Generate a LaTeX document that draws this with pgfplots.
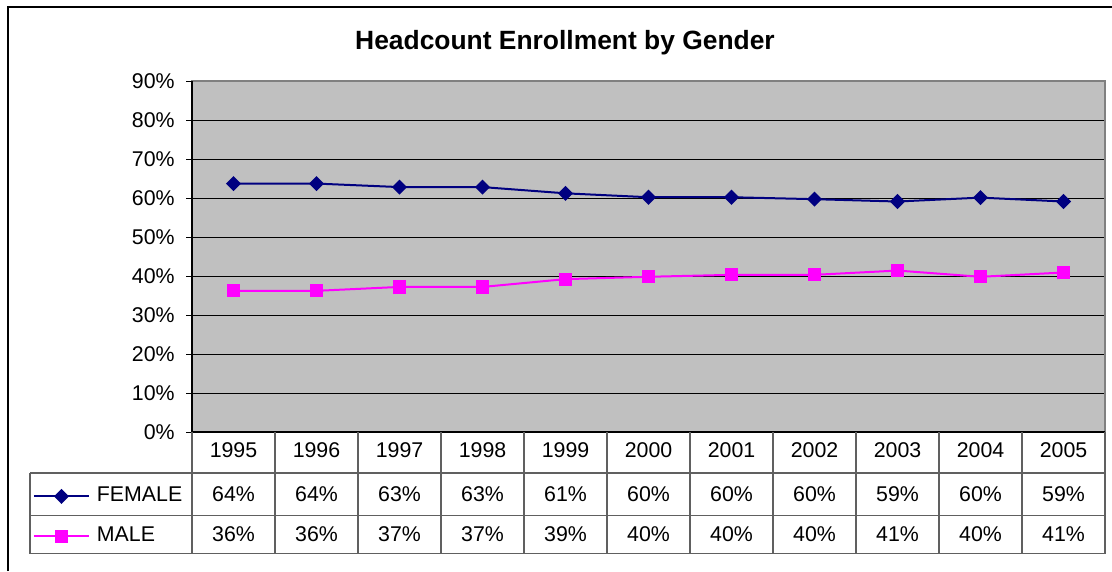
\documentclass[border=0pt]{standalone}
\usepackage{pgfplots}
\pgfplotsset{compat=1.18}
\usepackage{fontspec}
\setmainfont{Liberation Sans}
\definecolor{plotbg}{HTML}{C0C0C0}
\definecolor{fem}{HTML}{000080}
\definecolor{mal}{HTML}{FF00FF}
\definecolor{tabline}{HTML}{606060}
\newcommand{\tabfont}{\fontsize{16pt}{19pt}\selectfont}
\begin{document}
\begin{tikzpicture}
\path[use as bounding box] (0pt,0pt) rectangle (834pt,-428.25pt);
\begin{scope}[x=0.75pt,y=-0.75pt]
% outer frame
\draw[black, line width=1.1pt] (8,571) -- (8,7) -- (1112,7);
% title
\node[font=\fontsize{19.8pt}{23pt}\selectfont\bfseries, anchor=base] at (565,49) {Headcount Enrollment by Gender};
\end{scope}
\begin{axis}[
  at={(144pt,-324pt)}, anchor=south west,
  width=684.75pt, height=263.25pt, scale only axis,
  xmin=-0.5, xmax=10.5, ymin=0, ymax=90,
  xtick=\empty,
  ytick={0,10,20,30,40,50,60,70,80,90},
  yticklabels={0\%,10\%,20\%,30\%,40\%,50\%,60\%,70\%,80\%,90\%},
  yticklabel style={font=\tabfont, xshift=-5pt},
  ytick pos=left, tick align=outside, major tick length=4.5pt,
  tick style={black, line width=0.75pt},
  ymajorgrids, grid style={black, line width=0.75pt},
  axis background/.style={fill=plotbg},
  axis line style={draw=gray, line width=1pt},
  clip=false,
  legend style={draw=none, fill=none, at={(axis description cs:-0.1742,-0.153)}, anchor=north west,
    inner sep=0pt, outer sep=0pt, row sep=14pt, column sep=5.25pt, font=\tabfont,
    nodes={inner sep=0pt, outer sep=0pt, text height=12pt, text depth=4pt}},
  legend cell align=left,
  legend image code/.code={\draw[#1, mark repeat=2, mark phase=2] plot coordinates {(0pt,0pt)(20.6pt,0pt)(41.25pt,0pt)};},
]
\addplot[fem, line width=1.5pt, mark=diamond*, mark size=4.6pt, mark options={xscale=1.33, fill=fem, draw=fem}]
  coordinates {(0,63.7)(1,63.7)(2,62.8)(3,62.8)(4,61.2)(5,60.2)(6,60.2)(7,59.7)(8,59.1)(9,60.1)(10,59.1)};
\addlegendentry{FEMALE}
\addplot[mal, line width=1.5pt, mark=square*, mark size=4.2pt, mark options={fill=mal, draw=mal}]
  coordinates {(0,36.2)(1,36.2)(2,37.2)(3,37.2)(4,39.2)(5,39.8)(6,40.3)(7,40.3)(8,41.4)(9,39.8)(10,40.9)};
\addlegendentry{MALE}
\draw[black, line width=1pt] (rel axis cs:0,1) -- (rel axis cs:0,0) -- (rel axis cs:1,0);
\end{axis}
\begin{scope}[x=0.75pt,y=-0.75pt]
% data table
\draw[tabline, line width=0.8pt] (30,473) -- (1105,473) (30,515.7) -- (1105,515.7) (30,553.7) -- (1105,553.7)
  (30,473) -- (30,553.7) (192,432) -- (192,553.7) (1105,432) -- (1105,553.7);
\foreach \i in {1,...,10} { \draw[tabline, line width=0.8pt] (192+83*\i,432) -- (192+83*\i,553.7); }
\foreach \y/\f/\m [count=\i from 0] in {1995/64/36,1996/64/36,1997/63/37,1998/63/37,1999/61/39,2000/60/40,2001/60/40,2002/60/40,2003/59/41,2004/60/40,2005/59/41} {
  \node[font=\tabfont, anchor=base, inner sep=0pt] at (233.5+83*\i,457.3) {\y};
  \node[font=\tabfont, anchor=base, inner sep=0pt] at (233.5+83*\i,501.7) {\f\%};
  \node[font=\tabfont, anchor=base, inner sep=0pt] at (233.5+83*\i,541.7) {\m\%};
}
\end{scope}
\end{tikzpicture}
\end{document}
